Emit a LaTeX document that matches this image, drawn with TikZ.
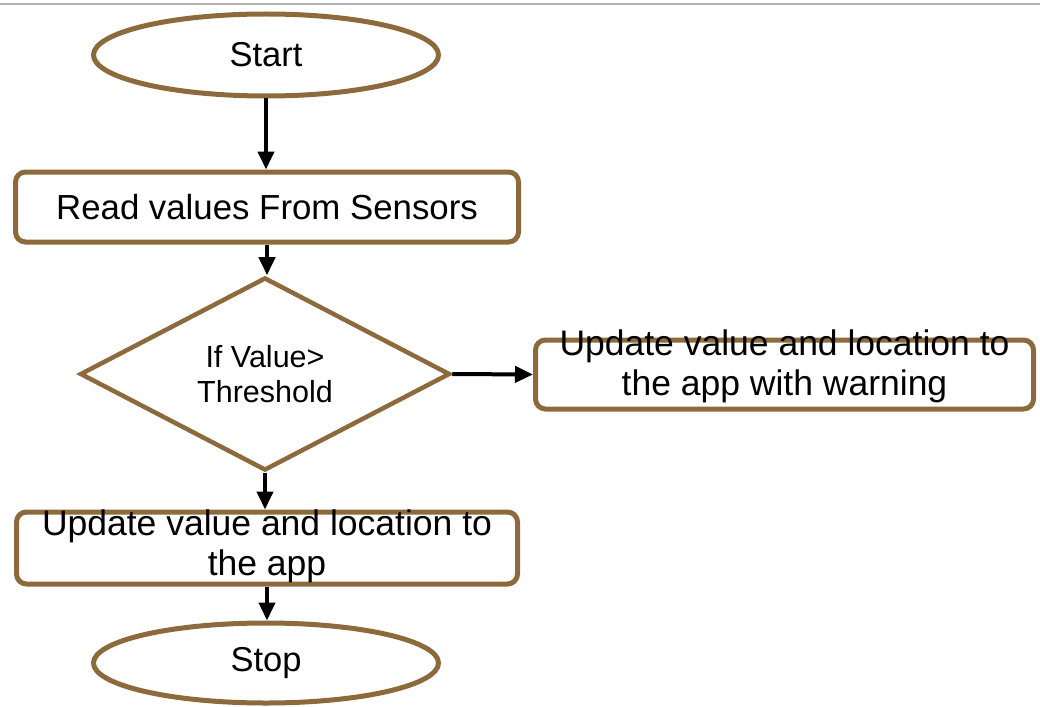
\documentclass[tikz,border=0pt]{standalone}
\usepackage{fontspec}
\setmainfont{Liberation Sans}
\usetikzlibrary{shapes.geometric,arrows.meta}
\definecolor{brownline}{RGB}{140,106,60}
\begin{document}
\begin{tikzpicture}[x=1pt,y=-1pt,
  term/.style={ellipse, draw=brownline, line width=5pt, fill=white, inner sep=0pt,
    font=\fontsize{34.5}{40}\selectfont},
  procbox/.style={rectangle, rounded corners=10pt, draw=brownline, line width=5pt,
    fill=white, inner sep=0pt},
  decision/.style={diamond, draw=brownline, line width=4.5pt, fill=white, inner sep=0pt,
    align=center, font=\fontsize{30.5}{35}\selectfont},
  boxtext/.style={align=center, inner sep=0pt, font=\fontsize{35.5}{40}\selectfont},
  flow/.style={line width=4pt, -{Triangle[length=18pt,width=16pt]}}]
\useasboundingbox (0,0) rectangle (1040,706);
\fill[white] (0,0) rectangle (1040,706);
\draw[black!30, line width=1.5pt] (0,4) -- (1040,4);

\node[term, minimum width=345pt, minimum height=82pt] (start) at (266,55) {Start};
\node[procbox, minimum width=503pt, minimum height=70pt, font=\fontsize{34.8}{40}\selectfont] (read) at (267,207) {Read values From Sensors};
\node[decision, minimum width=370pt, minimum height=174pt] (dec) at (265,374) {If Value>\\Threshold};
\node[procbox, minimum width=498pt, minimum height=69pt] (warn) at (784.5,374.5) {};
\node[boxtext] (warnt) at (784.5,366) {Update value and location to\\the app with warning};
\node[procbox, minimum width=501pt, minimum height=72pt] (upd) at (267,548) {};
\node[boxtext] (updt) at (267,546) {Update value and location to\\the app};
\node[term, minimum width=345pt, minimum height=80pt] (stop) at (266,663) {Stop};

\draw[flow] (start.south) -- (start.south |- read.north);
\draw[flow] (read.south) -- (read.south |- dec.north);
\draw[flow] (dec.east) -- (warn.west);
\draw[flow] (dec.south) -- (dec.south |- upd.north);
\draw[flow] (upd.south) -- (upd.south |- stop.north);
\end{tikzpicture}
\end{document}
